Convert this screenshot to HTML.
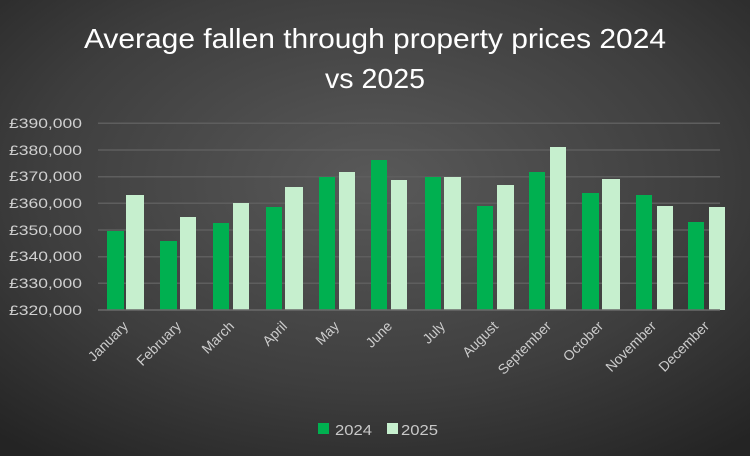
<!DOCTYPE html>
<html><head><style>
html,body{margin:0;padding:0;background:#333}
svg{display:block}
text{font-family:"Liberation Sans",sans-serif}
</style></head><body>
<svg width="750" height="456" viewBox="0 0 750 456" xmlns="http://www.w3.org/2000/svg">
<defs>
<radialGradient id="bg" cx="0.5" cy="0.4" r="0.75">
<stop offset="0" stop-color="#595959"/>
<stop offset="0.6" stop-color="#3e3e3e"/>
<stop offset="1" stop-color="#242424"/>
</radialGradient>
</defs>
<rect width="750" height="456" fill="url(#bg)"/>
<text x="375" y="48" fill="#fff" font-size="28" text-anchor="middle" textLength="582" lengthAdjust="spacingAndGlyphs">Average  fallen through property prices 2024</text>
<text x="375" y="88" fill="#fff" font-size="28" text-anchor="middle" textLength="100" lengthAdjust="spacingAndGlyphs">vs 2025</text>
<g stroke="#5e5e5e" stroke-width="1.5">
<line x1="98" x2="720" y1="123.3" y2="123.3"/>
<line x1="98" x2="720" y1="150" y2="150"/>
<line x1="98" x2="720" y1="176.7" y2="176.7"/>
<line x1="98" x2="720" y1="203.3" y2="203.3"/>
<line x1="98" x2="720" y1="230" y2="230"/>
<line x1="98" x2="720" y1="256.7" y2="256.7"/>
<line x1="98" x2="720" y1="283.3" y2="283.3"/>
</g>
<g fill="#d0d0d0" font-size="14" text-anchor="end">
<text x="82" y="128" textLength="73" lengthAdjust="spacingAndGlyphs">£390,000</text>
<text x="82" y="155" textLength="73" lengthAdjust="spacingAndGlyphs">£380,000</text>
<text x="82" y="181" textLength="73" lengthAdjust="spacingAndGlyphs">£370,000</text>
<text x="82" y="208" textLength="73" lengthAdjust="spacingAndGlyphs">£360,000</text>
<text x="82" y="235" textLength="73" lengthAdjust="spacingAndGlyphs">£350,000</text>
<text x="82" y="261" textLength="73" lengthAdjust="spacingAndGlyphs">£340,000</text>
<text x="82" y="288" textLength="73" lengthAdjust="spacingAndGlyphs">£330,000</text>
<text x="82" y="315" textLength="73" lengthAdjust="spacingAndGlyphs">£320,000</text>
</g>
<g fill="#00b050">
<rect x="107" y="231" width="17" height="79"/>
<rect x="160" y="241" width="17" height="69"/>
<rect x="213" y="223" width="16" height="87"/>
<rect x="266" y="207" width="16" height="103"/>
<rect x="319" y="177" width="16" height="133"/>
<rect x="371" y="160" width="16" height="150"/>
<rect x="425" y="177" width="16" height="133"/>
<rect x="477" y="206" width="16" height="104"/>
<rect x="529" y="172" width="16" height="138"/>
<rect x="582" y="193" width="17" height="117"/>
<rect x="636" y="195" width="16" height="115"/>
<rect x="688" y="222" width="16" height="88"/>
</g>
<g fill="#c6efce">
<rect x="126" y="195" width="18" height="115"/>
<rect x="180" y="217" width="16" height="93"/>
<rect x="233" y="203" width="16" height="107"/>
<rect x="285" y="187" width="18" height="123"/>
<rect x="339" y="172" width="16" height="138"/>
<rect x="391" y="180" width="16" height="130"/>
<rect x="444" y="177" width="17" height="133"/>
<rect x="497" y="185" width="17" height="125"/>
<rect x="550" y="147" width="16" height="163"/>
<rect x="602" y="179" width="18" height="131"/>
<rect x="657" y="206" width="16" height="104"/>
<rect x="709" y="207" width="16" height="103"/>
</g>
<line x1="98" x2="720" y1="310" y2="310" stroke="#6a6a6a" stroke-width="1.5"/>
<g fill="#cccccc" font-size="14" text-anchor="end">
<text transform="translate(129,327) rotate(-45)">January</text>
<text transform="translate(182,327) rotate(-45)">February</text>
<text transform="translate(235,327) rotate(-45)">March</text>
<text transform="translate(288,327) rotate(-45)">April</text>
<text transform="translate(340,327) rotate(-45)">May</text>
<text transform="translate(393,327) rotate(-45)">June</text>
<text transform="translate(446,327) rotate(-45)">July</text>
<text transform="translate(499,327) rotate(-45)">August</text>
<text transform="translate(552,327) rotate(-45)">September</text>
<text transform="translate(604,327) rotate(-45)">October</text>
<text transform="translate(657,327) rotate(-45)">November</text>
<text transform="translate(710,327) rotate(-45)">December</text>
</g>
<rect x="318" y="423" width="11" height="11" fill="#00b050"/>
<text x="335" y="435" fill="#c8c8c8" font-size="15" textLength="37" lengthAdjust="spacingAndGlyphs">2024</text>
<rect x="387" y="423" width="11" height="11" fill="#c6efce"/>
<text x="401" y="435" fill="#c8c8c8" font-size="15" textLength="37" lengthAdjust="spacingAndGlyphs">2025</text>
</svg>
</body></html>
